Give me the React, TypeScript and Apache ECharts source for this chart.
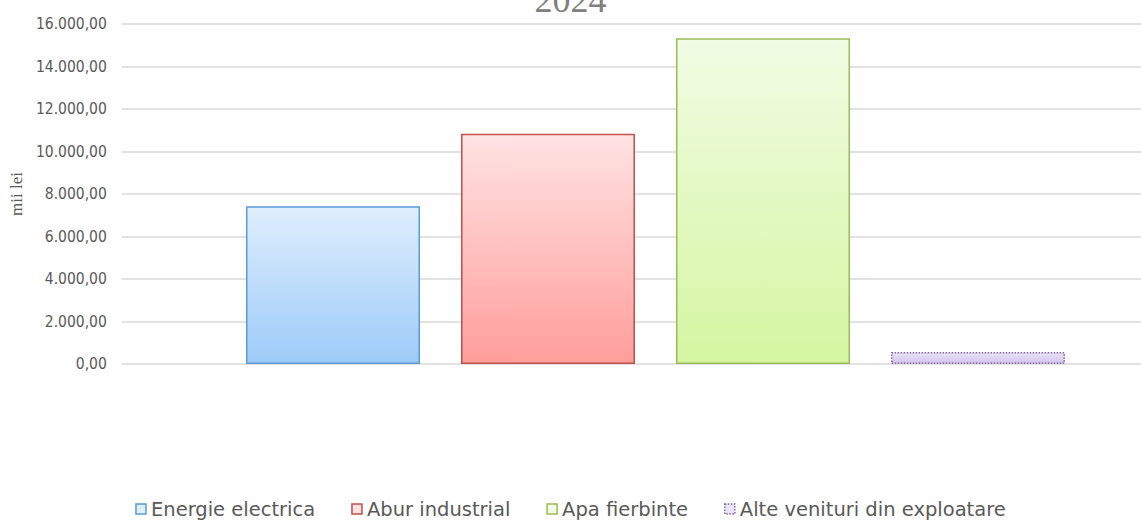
import React, { useEffect, useRef } from "react";
import * as echarts from "echarts";

const seriesNames = ["Energie electrica", "Abur industrial", "Apa fierbinte", "Alte venituri din exploatare"];
const values = [7420, 10830, 15330, 560];
const slots = ["s1", "s2", "s3", "s4"];
const yTicks = { min: 0, max: 16000, interval: 2000 };
const title = "2024";
const yName = "mii lei";

const fills = [
  ["#dfeefe", "#9dcbf8"],
  ["#ffe3e3", "#ff9e9b"],
  ["#f1fce4", "#d5f6a1"],
  ["#ebe3f7", "#d3c2ee"],
];
const borders = ["#5b9bd5", "#c0504d", "#9bbb59", "#8064a2"];

function fmt(v: number): string {
  const s = Math.round(v).toString().replace(/\B(?=(\d{3})+(?!\d))/g, ".");
  return s + ",00";
}

export default function App() {
  const ref = useRef<HTMLDivElement>(null);
  useEffect(() => {
    if (!ref.current) return;
    const chart = echarts.init(ref.current, null, { renderer: "svg" });
    const series = seriesNames.map((name, i) => ({
      name,
      type: "bar",
      stack: "all",
      xAxisIndex: 1,
      yAxisIndex: 1,
      barWidth: 174,
      data: slots.map((_, j) => (j === i ? values[i] : "-")),
      itemStyle: {
        color: new echarts.graphic.LinearGradient(0, 0, 0, 1, [
          { offset: 0, color: fills[i][0] },
          { offset: 1, color: fills[i][1] },
        ]),
        borderColor: borders[i],
        borderWidth: 1.5,
        borderType: i === 3 ? "dotted" : "solid",
      },
    }));
    chart.setOption({
      animation: false,
      graphic: [
        {
          type: "text",
          left: "center",
          top: -18,
          style: {
            text: title,
            font: "36px 'Liberation Serif'",
            fill: "#808080",
          },
        },
      ],
      legend: {
        bottom: -1,
        left: "center",
        itemWidth: 10,
        itemHeight: 10,
        itemGap: 36,
        textStyle: { fontFamily: "DejaVu Sans", fontSize: 19.5, color: "#595959" },
        data: seriesNames.map((name, i) => ({
          name,
          icon: "rect",
          itemStyle: {
            color: fills[i][0],
            borderColor: borders[i],
            borderWidth: 1.5,
            borderType: i === 3 ? "dotted" : "solid",
          },
        })),
      },
      grid: [
        { left: 119, right: 0, top: 24, bottom: 159 },
        { left: 225.5, width: 860, top: 24, bottom: 159 },
      ],
      xAxis: [
        { type: "category", gridIndex: 0, data: ["x"], show: false },
        { type: "category", gridIndex: 1, data: slots, show: false },
      ],
      yAxis: [
        {
          type: "value",
          gridIndex: 0,
          min: yTicks.min,
          max: yTicks.max,
          interval: yTicks.interval,
          axisLine: { show: false },
          axisTick: { show: false },
          axisLabel: {
            formatter: (v: number) => fmt(v),
            fontFamily: "DejaVu Sans Condensed",
            fontSize: 15.5,
            color: "#595959",
            margin: 15,
          },
          splitLine: { lineStyle: { color: "#d9d9d9", width: 1.5 } },
          name: yName,
          nameLocation: "middle",
          nameGap: 94,
          nameRotate: 90,
          nameTextStyle: { fontFamily: "Liberation Serif", fontSize: 17, color: "#595959" },
        },
        {
          type: "value",
          gridIndex: 1,
          min: yTicks.min,
          max: yTicks.max,
          interval: yTicks.interval,
          show: false,
          splitLine: { show: false },
        },
      ],
      series,
    });
    return () => chart.dispose();
  }, []);
  return (
    <div
      ref={ref}
      style={{ position: "fixed", left: 0, top: 0, width: 1141, height: 523, background: "#fff" }}
    />
  );
}
